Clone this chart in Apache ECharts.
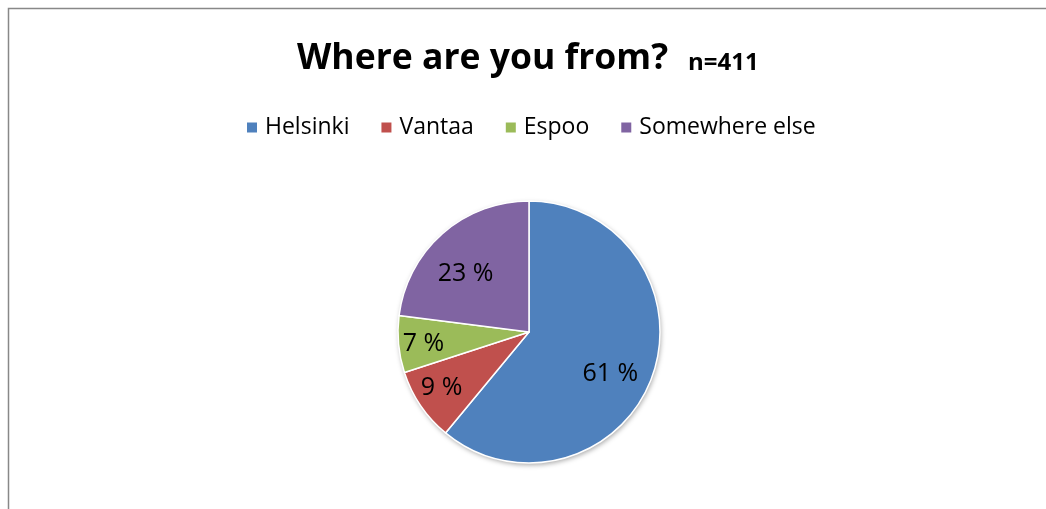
<!DOCTYPE html>
<html>
<head>
<meta charset="utf-8">
<script src="https://cdn.jsdelivr.net/npm/echarts@6/dist/echarts.min.js"></script>
<style>
  html, body { margin: 0; padding: 0; background: #fff; }
  #chart { width: 1046px; height: 509px; }
</style>
</head>
<body>
<div id="chart"></div>
<script>
// Survey answers, share of respondents (n = 411)
const categories = ['Helsinki', 'Vantaa', 'Espoo', 'Somewhere else'];
const shares = [61, 9, 7, 23];
const colors = ['#4F81BD', '#C0504D', '#9BBB59', '#8064A2'];
const titleText = 'Where are you from?';
const sampleText = 'n=411';

// small per-slice shifts [dx, dy] of the percentage labels
const labelNudge = [[-9, 9], [-8, 2], [-10, 3], [0, 14]];

const FONT = '"Open Sans", sans-serif';
const center = [529, 332];
const R = 131;

const pieData = categories.map((name, i) => ({
  name,
  value: shares[i],
  itemStyle: { color: colors[i] }
}));

const chart = echarts.init(document.getElementById('chart'), null, { renderer: 'canvas' });

chart.setOption({
  backgroundColor: '#fff',
  animation: false,
  graphic: [{
    type: 'rect',
    shape: { x: 8.5, y: 8.5, width: 1100, height: 600 },
    style: { fill: 'none', stroke: '#888', lineWidth: 1.5 },
    silent: true,
    z: -10
  }],
  title: {
    text: '{a|' + titleText + '}{b|' + sampleText + '}',
    left: 292,
    top: 32,
    textStyle: {
      rich: {
        a: { fontFamily: FONT, fontWeight: 'bold', fontSize: 35.5, color: '#000', lineHeight: 44 },
        b: { fontFamily: FONT, fontWeight: 'bold', fontSize: 24, color: '#000', lineHeight: 44, padding: [8, 0, 0, 20] }
      }
    }
  },
  legend: {
    data: categories,
    top: 111,
    left: 240,
    icon: 'rect',
    itemWidth: 12,
    itemHeight: 12,
    itemGap: 30,
    selectedMode: false,
    textStyle: { fontFamily: FONT, fontSize: 23, color: '#000', padding: [0, 0, 0, 2] }
  },
  series: [
    {
      // drop shadow under the whole disc
      type: 'pie',
      center, radius: R,
      silent: true,
      label: { show: false },
      labelLine: { show: false },
      data: [{ value: 1, itemStyle: { color: '#fff' } }],
      itemStyle: {
        shadowBlur: 5, shadowColor: 'rgba(0,0,0,0.35)', shadowOffsetX: 1, shadowOffsetY: 2
      },
      z: 1
    },
    {
      type: 'pie',
      center, radius: R,
      startAngle: 90,
      clockwise: true,
      data: pieData,
      itemStyle: { borderColor: '#fff', borderWidth: 1.5 },
      label: { show: false },
      labelLine: { show: false },
      z: 2
    },
    {
      // transparent ring used to place the percentage labels
      type: 'pie',
      center, radius: [R * 0.42, R],
      startAngle: 90,
      clockwise: true,
      silent: true,
      data: pieData.map(d => ({ name: d.name, value: d.value })),
      itemStyle: { color: 'rgba(0,0,0,0)', borderWidth: 0 },
      label: {
        show: true,
        position: 'inside',
        formatter: p => p.value + ' %',
        fontFamily: FONT,
        fontSize: 25,
        color: '#000'
      },
      labelLayout: p => ({ dx: labelNudge[p.dataIndex][0], dy: labelNudge[p.dataIndex][1] }),
      labelLine: { show: false },
      z: 3
    }
  ]
});
</script>
</body>
</html>
